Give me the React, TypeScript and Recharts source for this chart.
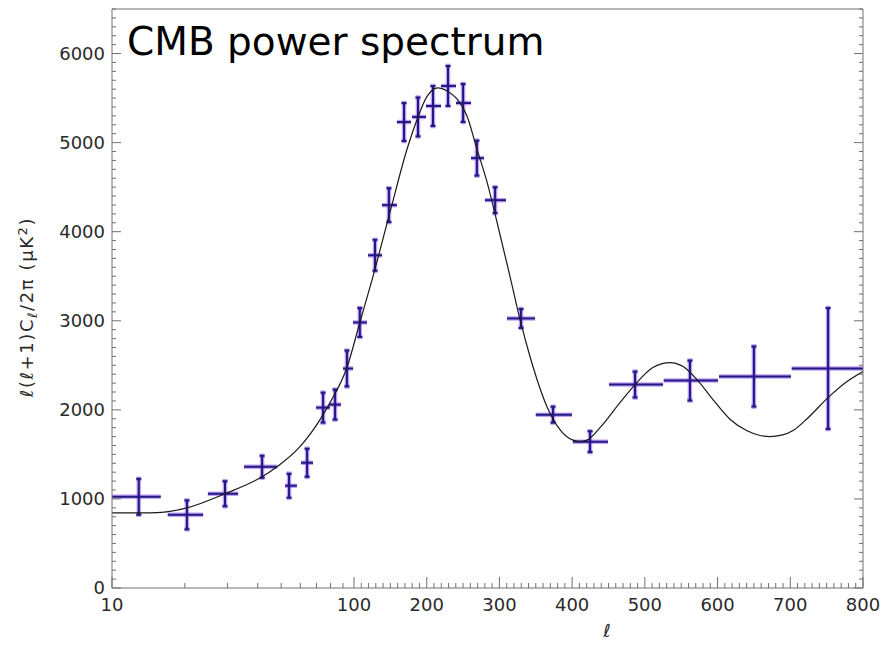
import React from 'react'
import { ComposedChart, Line, Scatter, ErrorBar, XAxis, YAxis } from 'recharts'

// binned band powers
const binEll = [12.9, 20.4, 29.3, 41.7, 53.9, 64, 74.5, 83.5, 93.5, 108, 128.9, 148, 168.8, 188, 208.6, 229.3, 250, 269, 294, 329.7, 373.7, 424.6, 486.5, 562, 650, 752]
const binLo = [10, 17, 24.9, 35.1, 51.9, 60.4, 69.7, 78.8, 90.1, 99, 119.3, 138.5, 159, 179.8, 199, 219.6, 240.3, 260.9, 280, 310.4, 350, 401, 450.7, 526, 602, 702]
const binHi = [15.9, 23.8, 33.2, 48.1, 58.1, 67.7, 79.6, 88.4, 99.1, 117.9, 138.5, 159, 178.4, 199, 219.6, 240.3, 260.9, 278.8, 309, 349, 399.8, 449.3, 525, 600.6, 701, 800]
const binPower = [1024, 821, 1058, 1361, 1148, 1406, 2025, 2059, 2464, 2981, 3735, 4298, 5231, 5288, 5411, 5636, 5445, 4826, 4354, 3026, 1946, 1643, 2284, 2329, 2374, 2464]
const binErr = [202, 163, 141, 124, 135, 158, 169, 169, 202, 163, 174, 191, 214, 219, 225, 225, 214, 197, 146, 107, 90, 118, 146, 225, 338, 680]

// best-fit model curve
const modelEll = [10, 13, 16, 20.4, 29.3, 41.7, 48.1, 59.8, 72.4, 79.6, 93.5, 108, 125, 149.5, 173, 187, 200, 215.5, 228, 241.7, 255.4, 269, 283, 296.7, 314.5, 328.3, 342, 365.4, 383.3, 401, 411, 420.4, 438.3, 465.8, 486.5, 511, 534.6, 552.5, 571.7, 593.7, 617, 640.5, 656, 672, 688, 705, 723, 752, 778, 800]
const modelPower = [844, 844, 850, 900, 1058, 1249, 1361, 1586, 1890, 2081, 2475, 2981, 3465, 4219, 4928, 5265, 5513, 5614, 5580, 5490, 5299, 4928, 4556, 4106, 3499, 3015, 2599, 2036, 1778, 1660, 1645, 1660, 1800, 2081, 2284, 2475, 2531, 2486, 2340, 2115, 1895, 1765, 1718, 1700, 1716, 1775, 1900, 2137, 2317, 2430]

const xMajor = [10, 100, 200, 300, 400, 500, 600, 700, 800]
const xMinorLog = [20, 30, 40, 50, 60, 70, 80, 90]
const yMajor = [0, 1000, 2000, 3000, 4000, 5000, 6000]
const yMax = 6500

// x axis: log from 10 to 100, linear above 100 (like the WMAP plot)
const LIN = 72.71 / 242 / 100
const toU = (ell: number) => (ell <= 100 ? Math.log10(ell) - 1 : 1 + (ell - 100) * LIN)
const fromU = (u: number) => Math.round(u <= 1 ? Math.pow(10, u + 1) : 100 + (u - 1) / LIN)
const uMax = toU(800)

const xTicks: number[] = [10, ...xMinorLog]
for (let l = 100; l <= 800; l += 10) xTicks.push(l)
const xTickU = xTicks.map(toU)
const yTicks: number[] = []
for (let v = 0; v <= yMax; v += 100) yTicks.push(v)

const points = binEll.map((l, i) => ({
  u: toU(l),
  v: binPower[i],
  ex: [toU(l) - toU(binLo[i]), toU(binHi[i]) - toU(l)],
  ey: binErr[i],
}))
const model = modelEll.map((l, i) => ({ u: toU(l), v: modelPower[i] }))

const axisColor = '#707070'
const labelFont = 'DejaVu Sans, sans-serif'

// eslint-disable-next-line @typescript-eslint/no-explicit-any
const BottomTick = ({ x, y, payload }: any) => {
  const ell = fromU(payload.value)
  const major = xMajor.includes(ell)
  return (
    <g>
      <line x1={x} x2={x} y1={y} y2={y - (major ? 11 : 5)} stroke={axisColor} />
      {major && (
        <text x={x} y={y + 23} textAnchor="middle" fontSize={18} fontFamily={labelFont} fill="#2a2a2a">
          {ell}
        </text>
      )}
    </g>
  )
}

// eslint-disable-next-line @typescript-eslint/no-explicit-any
const TopTick = ({ x, y, payload }: any) => {
  const major = xMajor.includes(fromU(payload.value))
  return <line x1={x} x2={x} y1={y} y2={y + (major ? 11 : 5)} stroke={axisColor} />
}

// eslint-disable-next-line @typescript-eslint/no-explicit-any
const LeftTick = ({ x, y, payload }: any) => {
  const major = yMajor.includes(payload.value)
  return (
    <g>
      <line x1={x} x2={x + (major ? 9 : 4)} y1={y} y2={y} stroke={axisColor} />
      {major && (
        <text x={x - 7} y={y} dy="0.36em" textAnchor="end" fontSize={18} fontFamily={labelFont} fill="#2a2a2a">
          {payload.value}
        </text>
      )}
    </g>
  )
}

// eslint-disable-next-line @typescript-eslint/no-explicit-any
const RightTick = ({ x, y, payload }: any) => {
  const major = yMajor.includes(payload.value)
  return <line x1={x} x2={x - (major ? 9 : 4)} y1={y} y2={y} stroke={axisColor} />
}

const NoDot = () => <g />

export default function App() {
  return (
    <div style={{ position: 'absolute', left: 0, top: 0, width: 885, height: 645, background: '#fff' }}>
      <ComposedChart width={885} height={645} margin={{ top: 4, right: 12, bottom: 17, left: 52 }}>
        <XAxis
          xAxisId="b"
          type="number"
          dataKey="u"
          domain={[0, uMax]}
          allowDataOverflow
          ticks={xTickU}
          interval={0}
          height={40}
          tickSize={0}
          tickMargin={0}
          tickLine={false}
          axisLine={{ stroke: axisColor }}
          tick={<BottomTick />}
        />
        <XAxis
          xAxisId="t"
          orientation="top"
          type="number"
          domain={[0, uMax]}
          allowDataOverflow
          ticks={xTickU}
          interval={0}
          height={5}
          tickSize={0}
          tickMargin={0}
          tickLine={false}
          axisLine={{ stroke: axisColor }}
          tick={<TopTick />}
        />
        <YAxis
          yAxisId="l"
          type="number"
          dataKey="v"
          domain={[0, yMax]}
          allowDataOverflow
          ticks={yTicks}
          interval={0}
          width={60}
          tickSize={0}
          tickMargin={0}
          tickLine={false}
          axisLine={{ stroke: axisColor }}
          tick={<LeftTick />}
        />
        <YAxis
          yAxisId="r"
          orientation="right"
          type="number"
          domain={[0, yMax]}
          allowDataOverflow
          ticks={yTicks}
          interval={0}
          width={10}
          tickSize={0}
          tickMargin={0}
          tickLine={false}
          axisLine={{ stroke: axisColor }}
          tick={<RightTick />}
        />
        <Scatter xAxisId="b" yAxisId="l" data={points} dataKey="v" shape={<NoDot />} isAnimationActive={false}>
          <ErrorBar dataKey="ex" direction="x" width={0} stroke="#8a3ff0" strokeOpacity={0.5} strokeWidth={4.5} isAnimationActive={false} />
          <ErrorBar dataKey="ey" direction="y" width={2.5} stroke="#8a3ff0" strokeOpacity={0.5} strokeWidth={4.5} isAnimationActive={false} />
          <ErrorBar dataKey="ex" direction="x" width={0} stroke="#1f1a80" strokeWidth={2} isAnimationActive={false} />
          <ErrorBar dataKey="ey" direction="y" width={2.5} stroke="#1f1a80" strokeWidth={2} isAnimationActive={false} />
        </Scatter>
        <Line
          xAxisId="b"
          yAxisId="l"
          data={model}
          dataKey="v"
          type="monotone"
          stroke="#1a1a1a"
          strokeWidth={1.2}
          dot={false}
          isAnimationActive={false}
        />
      </ComposedChart>
      <svg width={885} height={645} style={{ position: 'absolute', left: 0, top: 0, pointerEvents: 'none' }}>
        <text x={127} y={55} fontSize={39} fontFamily={labelFont} fill="#000">
          CMB power spectrum
        </text>
        <text
          transform="translate(27 307) rotate(-90)"
          textAnchor="middle"
          dy="0.35em"
          fontSize={18}
          letterSpacing={1.6}
          fontFamily={labelFont}
          fill="#2a2a2a"
        >
          <tspan>ℓ(ℓ+1)C</tspan>
          <tspan dy={4} fontSize={13}>ℓ</tspan>
          <tspan dy={-4}>/2π (μK</tspan>
          <tspan dy={-6} fontSize={13}>2</tspan>
          <tspan dy={6}>)</tspan>
        </text>
        <text x={607} y={637} textAnchor="middle" fontSize={18} fontStyle="italic" fontFamily={labelFont} fill="#2a2a2a">
          ℓ
        </text>
      </svg>
    </div>
  )
}
